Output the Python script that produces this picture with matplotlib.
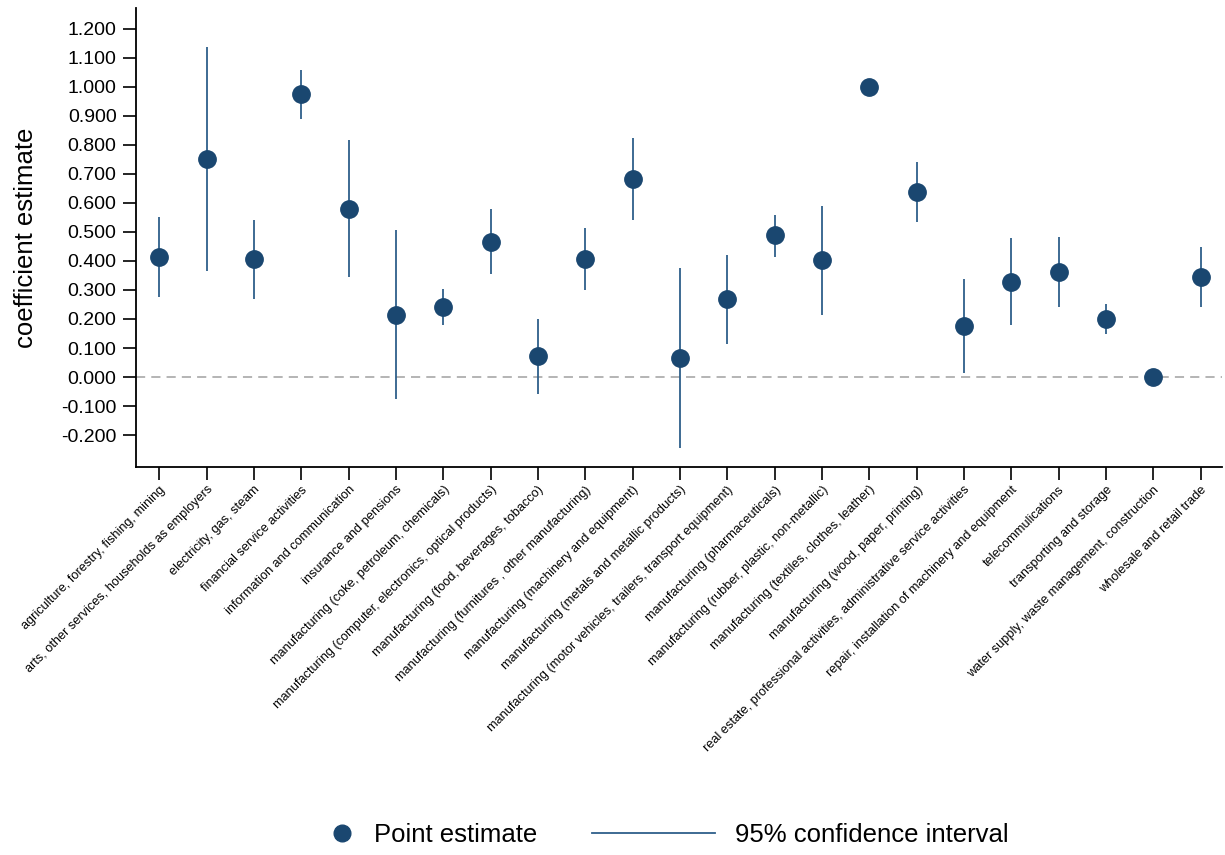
import matplotlib
matplotlib.use('Agg')
import matplotlib.pyplot as plt
import numpy as np
from matplotlib.lines import Line2D

plt.rcParams['font.family'] = ['Liberation Sans', 'DejaVu Sans']

sectors = [
    'agriculture, forestry, fishing, mining',
    'arts, other services, households as employers',
    'electricity, gas, steam',
    'financial service activities',
    'information and communication',
    'insurance and pensions',
    'manufacturing (coke, petroleum, chemicals)',
    'manufacturing (computer, electronics, optical products)',
    'manufacturing (food, beverages, tobacco)',
    'manufacturing (furnitures , other manufacturing)',
    'manufacturing (machinery and equipment)',
    'manufacturing (metals and metallic products)',
    'manufacturing (motor vehicles, trailers, transport equipment)',
    'manufacturing (pharmaceuticals)',
    'manufacturing (rubber, plastic, non-metallic)',
    'manufacturing (textiles, clothes, leather)',
    'manufacturing (wood, paper, printing)',
    'real estate, professional activities, administrative service activities',
    'repair, installation of machinery and equipment',
    'telecommulications',
    'transporting and storage',
    'water supply, waste management, construction',
    'wholesale and retail trade',
]
estimate = [0.412, 0.752, 0.406, 0.975, 0.580, 0.215, 0.240, 0.466, 0.071, 0.408,
            0.682, 0.066, 0.268, 0.488, 0.404, 1.000, 0.636, 0.177, 0.328, 0.362,
            0.199, 0.000, 0.346]
ci_low = [0.275, 0.365, 0.270, 0.890, 0.345, -0.075, 0.178, 0.354, -0.058, 0.300,
          0.540, -0.245, 0.115, 0.413, 0.215, 1.000, 0.533, 0.015, 0.178, 0.240,
          0.147, 0.000, 0.243]
ci_high = [0.550, 1.137, 0.542, 1.057, 0.815, 0.505, 0.302, 0.578, 0.200, 0.513,
           0.823, 0.375, 0.421, 0.560, 0.590, 1.000, 0.742, 0.337, 0.479, 0.483,
           0.251, 0.000, 0.449]

dot_col = '#1a4770'
line_col = '#2e5f8a'

fig = plt.figure(figsize=(12.25, 8.55), dpi=100)
ax = fig.add_axes([0.111, 0.4538, 0.8865, 0.537])

x = np.arange(len(sectors))
ax.axhline(0, color='#a0a0a0', lw=1.1, ls=(0, (6, 4)), zorder=1)
ax.vlines(x, ci_low, ci_high, color=line_col, lw=1.3, zorder=2)
ax.plot(x, estimate, 'o', color=dot_col, ms=12.5, zorder=3)

ax.set_xlim(-0.49, 22.45)
ax.set_ylim(-0.31, 1.272)
yt = np.arange(-0.2, 1.21, 0.1)
ax.set_yticks(yt)
ax.set_yticklabels(['%.3f' % v for v in yt], fontsize=14)
ax.set_xticks(x)
ax.set_xticklabels(sectors, rotation=45, ha='right', rotation_mode='anchor', fontsize=9.2)
ax.tick_params(axis='both', length=9.5, width=1.2, color='black')
ax.tick_params(axis='x', pad=2.5)
ax.tick_params(axis='y', pad=4.5)
ax.set_ylabel('coefficient estimate', fontsize=18.5)
ax.yaxis.set_label_coords(-0.09, 0.5)

for s in ['top', 'right']:
    ax.spines[s].set_visible(False)
for s in ['left', 'bottom']:
    ax.spines[s].set_linewidth(1.3)

# two legends so the marker and line entries can have different handle widths
leg1 = fig.legend([Line2D([], [], marker='o', ls='none', color=dot_col, ms=12)],
                  ['Point estimate'], loc='center left',
                  bbox_to_anchor=(329 / 1225, 0.0234), frameon=False, fontsize=18.5,
                  handlelength=1.0, handletextpad=0.75, borderpad=0, borderaxespad=0)
leg2 = fig.legend([Line2D([], [], color=line_col, lw=1.3)],
                  ['95% confidence interval'], loc='center left',
                  bbox_to_anchor=(592 / 1225, 0.0234), frameon=False, fontsize=18.5,
                  handlelength=4.8, handletextpad=0.75, borderpad=0, borderaxespad=0)

fig.savefig('out.png', dpi=100)
